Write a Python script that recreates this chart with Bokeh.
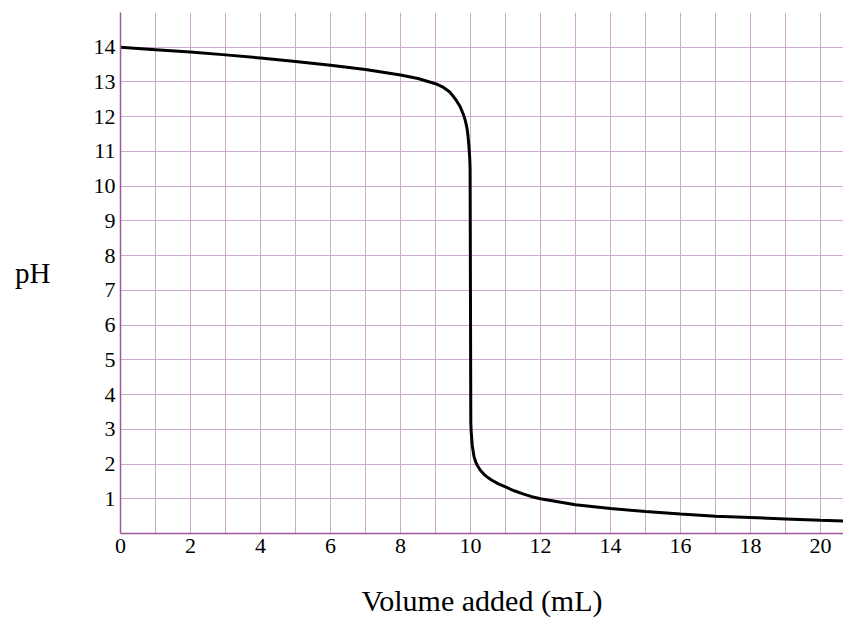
from bokeh.plotting import figure
from bokeh.models import Range1d, FixedTicker
from bokeh.embed import file_html
from bokeh.resources import INLINE

# Titration curve
volume_ml = [0, 1, 2, 3, 4, 5, 6, 7, 8, 8.5, 9, 9.2, 9.4, 9.5, 9.6, 9.7, 9.8, 9.85,
             9.9, 9.93, 9.96, 9.98, 9.99, 10.0, 10.01, 10.02, 10.05, 10.1, 10.15,
             10.2, 10.3, 10.4, 10.5, 10.6, 10.8, 11, 11.25, 11.5, 11.75, 12, 13, 14,
             15, 16, 17, 18, 19, 20, 20.66]
ph_values = [14.0, 13.93, 13.86, 13.78, 13.69, 13.59, 13.48, 13.36, 13.2, 13.1, 12.95,
             12.86, 12.72, 12.6, 12.46, 12.3, 12.06, 11.9, 11.68, 11.45, 11.1, 10.8,
             10.5, 7.0, 3.2, 2.95, 2.55, 2.22, 2.06, 1.95, 1.8, 1.69, 1.61, 1.54, 1.43,
             1.34, 1.23, 1.14, 1.06, 1.0, 0.83, 0.72, 0.63, 0.56, 0.5, 0.46, 0.42,
             0.38, 0.36]

x_tick_values = [0, 2, 4, 6, 8, 10, 12, 14, 16, 18, 20]
y_tick_values = list(range(1, 15))
x_grid_values = list(range(0, 21))
y_grid_values = list(range(1, 16))

FONT = "Liberation Serif"
GRID = "#cfa8cf"
AXIS = "#9c5a9c"

p = figure(width=843, height=619, output_backend="svg", toolbar_location=None,
           x_range=Range1d(0, 20.66), y_range=Range1d(0, 15))
p.min_border_left = 120
p.min_border_right = 0
p.min_border_top = 12
p.min_border_bottom = 86
p.outline_line_color = None
p.background_fill_color = "white"
p.border_fill_color = "white"

p.xaxis.ticker = FixedTicker(ticks=x_tick_values)
p.yaxis.ticker = FixedTicker(ticks=y_tick_values)
p.xgrid.ticker = FixedTicker(ticks=x_grid_values)
p.ygrid.ticker = FixedTicker(ticks=y_grid_values)
for g in (p.xgrid, p.ygrid):
    g.grid_line_color = GRID
    g.grid_line_width = 1
    g.grid_line_alpha = 1.0

for ax in (p.xaxis, p.yaxis):
    ax.axis_line_color = AXIS
    ax.axis_line_width = 1.5
    ax.major_tick_line_color = None
    ax.minor_tick_line_color = None
    ax.major_tick_in = 0
    ax.major_tick_out = 0
    ax.minor_tick_out = 0
    ax.major_label_text_font = FONT
    ax.major_label_text_font_size = "22px"
    ax.major_label_text_color = "black"
    ax.axis_label_text_font = FONT
    ax.axis_label_text_font_style = "normal"
    ax.axis_label_text_color = "black"

p.xaxis.major_label_standoff = 5
p.yaxis.major_label_standoff = 5
p.xaxis.axis_label = "Volume added (mL)"
p.xaxis.axis_label_text_font_size = "30px"
p.xaxis.axis_label_standoff = 28
p.yaxis.axis_label = "pH"
p.yaxis.axis_label_orientation = "horizontal"
p.yaxis.axis_label_text_font_size = "29px"
p.yaxis.axis_label_standoff = 40

p.line(volume_ml, ph_values, line_color="black", line_width=3)

open("out.html", "w").write(file_html(p, INLINE))
